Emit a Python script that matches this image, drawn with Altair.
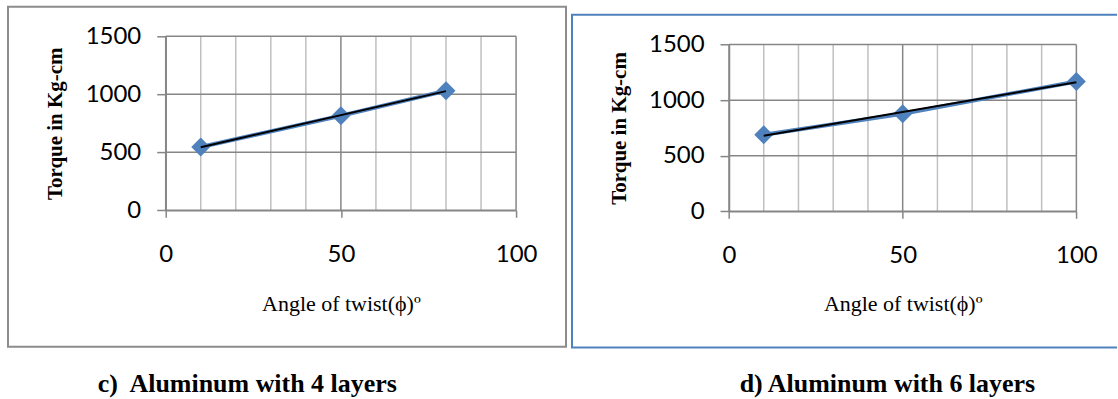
import altair as alt
import pandas as pd

# Measured torque for each angle of twist
ANGLE_4 = [10, 50, 80]
TORQUE_4 = [546, 815, 1030]
ANGLE_6 = [10, 50, 100]
TORQUE_6 = [688, 878, 1168]

# Axis ticks and grid positions
X_TICKS = [0, 50, 100]
Y_TICKS = [0, 500, 1000, 1500]
X_MINOR = [10, 20, 30, 40, 60, 70, 80, 90]

X_TITLE = "Angle of twist(ϕ)º"
Y_TITLE = "Torque in Kg-cm"
CAPTIONS = ["c)\u00a0 Aluminum with 4 layers", "d) Aluminum with 6 layers"]

BLUE = "#4f81bd"
MAJOR = "#868686"
MINOR = "#c0c0c0"
H = 399


def panel(angles, torques, width, x_range, y_range, frame, frame_color, caption, cap_x):
    df = pd.DataFrame({"angle": angles, "torque": torques})
    xs = alt.Scale(domain=[0, 100], range=x_range, nice=False, zero=False)
    ys = alt.Scale(domain=[0, 1500], range=y_range, nice=False, zero=False)

    x_axis = alt.Axis(
        values=X_TICKS, grid=False, orient="bottom", offset=-(H - y_range[0]),
        format="d",
        tickSize=7, tickColor=MAJOR, tickWidth=1.5,
        domainColor=MAJOR, domainWidth=1.5,
        labelFont="Lato", labelFontSize=24, labelColor="black",
        labelBaseline="middle", labelPadding=37, labelFlush=False,
        title=X_TITLE, titleFont="Liberation Serif", titleFontSize=22,
        titleFontWeight="normal", titleColor="black",
        titleBaseline="alphabetic", titleAlign="center",
        titleY=310 - y_range[0],
        titleX=(x_range[0] + x_range[1]) / 2,
    )
    y_axis = alt.Axis(
        values=Y_TICKS, grid=False, orient="left", offset=-x_range[0],
        format="d",
        tickSize=9, tickColor=MAJOR, tickWidth=1.5,
        domainColor=MAJOR, domainWidth=1.5,
        labelFont="Lato", labelFontSize=24, labelColor="black", labelPadding=16,
        title=Y_TITLE, titleFont="Liberation Serif", titleFontSize=21,
        titleFontWeight="bold", titleColor="black", titleAngle=270,
        titleBaseline="middle", titleX=-110,
        titleY=(y_range[0] + y_range[1]) / 2,
    )

    def X(field):
        return alt.X(field, scale=xs, axis=x_axis, title=X_TITLE)

    def Y(field):
        return alt.Y(field, scale=ys, axis=y_axis, title=Y_TITLE)

    vgrid = pd.DataFrame({"gx": X_MINOR, "y0": 0, "y1": 1500})
    vmajor = pd.DataFrame({"gx": X_TICKS, "y0": 0, "y1": 1500})
    hgrid = pd.DataFrame({"gy": Y_TICKS, "x0": 0, "x1": 100})

    minor_rules = alt.Chart(vgrid).mark_rule(color=MINOR, strokeWidth=1.5).encode(
        x=X("gx:Q"), y=Y("y0:Q"), y2="y1:Q")
    major_v = alt.Chart(vmajor).mark_rule(color=MAJOR, strokeWidth=1.5).encode(
        x=X("gx:Q"), y=Y("y0:Q"), y2="y1:Q")
    major_h = alt.Chart(hgrid).mark_rule(color=MAJOR, strokeWidth=1.5).encode(
        y=Y("gy:Q"), x=X("x0:Q"), x2="x1:Q")

    line = alt.Chart(df).mark_line(color=BLUE, strokeWidth=4).encode(
        x=X("angle:Q"), y=Y("torque:Q"))
    points = alt.Chart(df).mark_point(
        shape="diamond", filled=True, color=BLUE, opacity=1, size=360
    ).encode(x=X("angle:Q"), y=Y("torque:Q"))
    trend = alt.Chart(df).transform_regression("angle", "torque").mark_line(
        color="black", strokeWidth=2
    ).encode(x=X("angle:Q"), y=Y("torque:Q"))

    one = pd.DataFrame({"k": [0]})
    box = alt.Chart(one).mark_rect(
        fillOpacity=0, stroke=frame_color, strokeWidth=2, clip=True
    ).encode(
        x=alt.value(frame[0]), x2=alt.value(frame[1]),
        y=alt.value(frame[2]), y2=alt.value(frame[3]))
    cap = alt.Chart(pd.DataFrame({"t": [caption]})).mark_text(
        font="Liberation Serif", fontSize=26, fontWeight="bold", color="black",
        align="left", baseline="alphabetic"
    ).encode(text="t:N", x=alt.value(cap_x), y=alt.value(391))

    return alt.layer(
        minor_rules, major_v, major_h, line, points, trend, box, cap
    ).properties(width=width, height=H)


left = panel(ANGLE_4, TORQUE_4, 567, [165, 516], [209.3, 35],
             [7, 566, 5.5, 346], "#8c8c8c", CAPTIONS[0], 97)
right = panel(ANGLE_6, TORQUE_6, 551, [162.3, 510.3], [210.3, 43.3],
              [5, 560, 13.3, 346.7], BLUE, CAPTIONS[1], 173)

chart = alt.hconcat(left, right, spacing=0, bounds="flush").properties(
    padding=0, background="white"
).configure_view(stroke="transparent")

chart.save("out.html", embed_options={"renderer": "svg", "actions": False})
